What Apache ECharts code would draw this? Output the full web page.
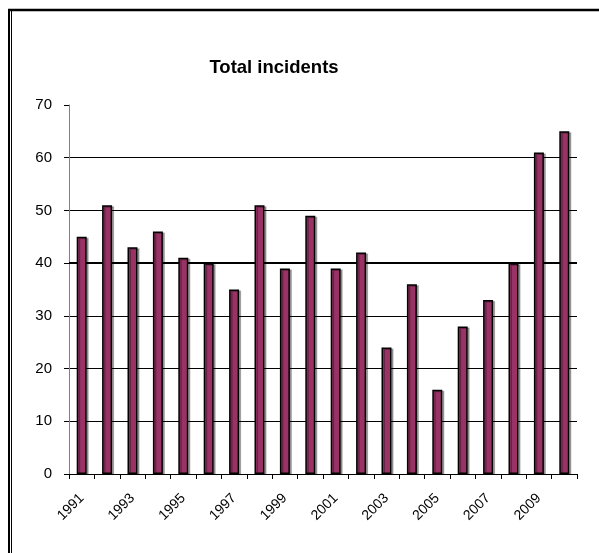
<!DOCTYPE html>
<html>
<head>
<meta charset="utf-8">
<script src="https://cdn.jsdelivr.net/npm/echarts@6/dist/echarts.min.js"></script>
<style>
html,body{margin:0;padding:0;background:#fff;}
#chart{width:599px;height:553px;}
</style>
</head>
<body>
<div id="chart"></div>
<script>
const years = ['1991','1992','1993','1994','1995','1996','1997','1998','1999','2000','2001','2002','2003','2004','2005','2006','2007','2008','2009','2010'];
const incidents = [45,51,43,46,41,40,35,51,39,49,39,42,24,36,16,28,33,40,61,65];
const titleText = 'Total incidents';

const chart = echarts.init(document.getElementById('chart'), null, {renderer:'canvas'});
chart.setOption({
  animation:false,
  backgroundColor:'#fff',
  title:{
    text:titleText,
    left:269, top:53, textAlign:'center',
    textStyle:{fontFamily:'Liberation Sans, Arial',fontWeight:'bold',fontSize:18.5,color:'#000'}
  },
  graphic:[
    {type:'line',shape:{x1:8,y1:10,x2:599,y2:10},style:{stroke:'#000',lineWidth:2.5},silent:true},
    {type:'line',shape:{x1:9,y1:9,x2:9,y2:553},style:{stroke:'#000',lineWidth:2},silent:true},
    {type:'line',shape:{x1:11.5,y1:11,x2:11.5,y2:553},style:{stroke:'#000',lineWidth:1},silent:true}
  ],
  grid:{left:69,right:22,top:105,bottom:79,containLabel:false},
  xAxis:{
    type:'category',
    data:years,
    boundaryGap:true,
    axisLine:{lineStyle:{color:'#000',width:1}},
    axisTick:{show:true,length:5,alignWithLabel:false,interval:0,lineStyle:{color:'#000'}},
    axisLabel:{interval:1,rotate:45,margin:22,fontFamily:'Liberation Sans, Arial',fontSize:14,color:'#000'},
    splitLine:{show:false}
  },
  yAxis:{
    type:'value',
    min:0,max:70,interval:10,
    axisLine:{show:true,lineStyle:{color:'#808080',width:1}},
    axisTick:{show:true,length:5,lineStyle:{color:'#000'}},
    axisLabel:{margin:17,fontFamily:'Liberation Sans, Arial',fontSize:15,color:'#000'},
    splitLine:{show:true,lineStyle:{color:['#000','#000','#000','#000','#000','#000','#000','rgba(0,0,0,0)'],width:1}}
  },
  series:[{
    type:'bar',
    data:incidents,
    barWidth:10,
    itemStyle:{color:'#993366',borderColor:'#000',borderWidth:1.5,shadowColor:'rgba(0,0,0,0.3)',shadowOffsetX:2,shadowOffsetY:1,shadowBlur:0},
    markLine:{silent:true,symbol:'none',label:{show:false},lineStyle:{color:'#000',width:2,type:'solid'},data:[{yAxis:40}],z:1},
    z:3
  }]
});
</script>
</body>
</html>
